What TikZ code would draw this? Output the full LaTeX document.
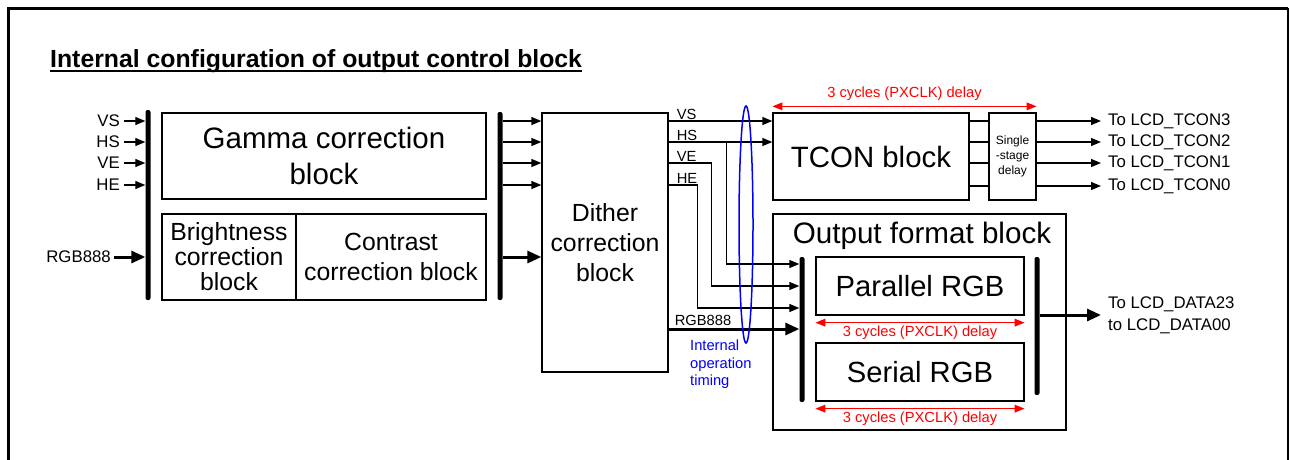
\documentclass[tikz,border=0pt]{standalone}
\usepackage{fontspec}
\setmainfont{Liberation Sans}
\usetikzlibrary{arrows.meta,positioning,shapes.geometric}
\newcommand{\fs}[2]{\fontsize{#1}{#2}\selectfont}

\begin{document}
\begin{tikzpicture}[
  x=1pt,y=-1pt,
  font=\fs{16.8}{16.8},
  blk/.style={draw,line width=1.3pt,inner sep=0pt,align=center},
  bus/.style={fill=black,minimum width=5pt,inner sep=0pt,rounded corners=2pt},
  arr/.style={-{Triangle[length=10pt,width=8pt]},line width=1.3pt},
  fat/.style={-{Triangle[length=14pt,width=12pt]},line width=3pt},
  dly/.style={{Triangle[length=10pt,width=7.5pt]}-{Triangle[length=10pt,width=7.5pt]},
    draw=red,line width=1.6pt},
  dlytxt/.style={text=red,font=\fs{14.7}{14.7},inner sep=0pt},
  sig/.style={inner sep=0pt,anchor=east},
  lbl/.style={inner sep=0pt,anchor=south west,font=\fs{14.7}{14.7}}
]
\useasboundingbox (0,0) rectangle (1290,459);
% frame
\draw[line width=3pt] (8,470) -- (8,8) -- (1288,8);
\draw[line width=2pt] (1288,8) -- (1288,470);

% title
\node[anchor=base west,inner sep=0pt,font=\fs{24.8}{24.8}\bfseries] (title) at (50,67)
  {Internal configuration of output control block};
\draw[line width=2.5pt] ([yshift=-4pt]title.base west) -- ([yshift=-4pt]title.base east);

% signal rows
\coordinate (r1) at (0,121);
\coordinate (r2) at (0,142);
\coordinate (r3) at (0,163);
\coordinate (r4) at (0,185);
\coordinate (rd) at (0,257);
\coordinate (q1) at (0,264);
\coordinate (q2) at (0,286);
\coordinate (q3) at (0,308);
\coordinate (q4) at (0,329);

% blocks
\node[blk,minimum width=324,minimum height=86,font=\fs{29.5}{36}] (gamma) at (324,156)
  {Gamma correction\\block};
\node[blk,minimum width=134,minimum height=86,font=\fs{24.8}{25}] (bright) at (229,257)
  {Brightness\\correction\\block};
\node[blk,minimum width=190,minimum height=86,font=\fs{24.8}{30}] (contrast) at (391,257)
  {Contrast\\correction block};
\node[blk,minimum width=126,minimum height=259,font=\fs{24.8}{30}] (dither) at (605,242.5)
  {Dither\\correction\\block};
\node[blk,minimum width=196,minimum height=87,font=\fs{29.4}{29.4}] (tcon) at (871,156.5)
  {TCON block};
\node[blk,minimum width=47,minimum height=87,font=\fs{12}{15}] (sdelay) at (1012.5,156.5)
  {Single\\-stage\\delay};
\node[blk,minimum width=293,minimum height=216] (ofmt) at (919.5,322) {};
\node[inner sep=0pt,font=\fs{29.6}{29.6}] (ofmttxt) at (922,236) {Output format block};
\node[blk,minimum width=208,minimum height=58,font=\fs{29.2}{29.2}] (par) at (920,286)
  {Parallel RGB};
\node[blk,minimum width=208,minimum height=58,font=\fs{29.2}{29.2}] (ser) at (920,372)
  {Serial RGB};

% buses
\node[bus,minimum height=190] (bus1) at (148,205) {};
\node[bus,minimum height=188] (bus2) at (500,206) {};
\node[bus,minimum height=145] (bus3) at (802,329.5) {};
\node[bus,minimum height=138] (bus4) at (1037,326) {};

% inputs
\node[sig] (ivs) at (120,121) {VS};
\node[sig] (ihs) at (120,142) {HS};
\node[sig] (ive) at (120,163) {VE};
\node[sig] (ihe) at (120,185) {HE};
\node[sig] (irgb) at (111,257) {RGB888};
\foreach \s in {ivs,ihs,ive,ihe}
  \draw[arr] ([xshift=4pt]\s.east) -- (\s -| bus1.west);
\draw[fat] ([xshift=3pt]irgb.east) -- (irgb -| bus1.west);

% bus to dither
\foreach \r in {r1,r2,r3,r4}
  \draw[arr] (bus2.east |- \r) -- (dither.west |- \r);
\draw[fat] (bus2.east |- rd) -- (dither.west |- rd);

% dither outputs
\draw[arr] (dither.east |- r1) -- (tcon.west |- r1);
\draw[arr] (dither.east |- r2) -- (tcon.west |- r2);
\draw[arr] (dither.east |- r2) ++(58,0) |- (bus3.west |- q1);
\draw[arr] (dither.east |- r3) -- ++(43,0) |- (bus3.west |- q2);
\draw[arr] (dither.east |- r4) -- ++(29,0) |- (bus3.west |- q3);
\draw[fat] (dither.east |- q4) -- (bus3.west |- q4);
\node[lbl] at ([xshift=8pt,yshift=1pt]dither.east |- r1) {VS};
\node[lbl] at ([xshift=8pt,yshift=1pt]dither.east |- r2) {HS};
\node[lbl] at ([xshift=8pt,yshift=1pt]dither.east |- r3) {VE};
\node[lbl] at ([xshift=8pt,yshift=1pt]dither.east |- r4) {HE};
\node[lbl] at ([xshift=6pt,yshift=3pt]dither.east |- q4) {RGB888};

% timing ring
\node[draw=blue,line width=1.5pt,ellipse,inner sep=0pt,
  minimum width=14,minimum height=237] (ring) at (746,224.5) {};
\node[anchor=north west,align=left,inner sep=0pt,text=blue,font=\fs{14.7}{17.5}]
  (timing) at (690,340) {Internal\\operation\\timing};

% TCON outputs
\node[anchor=west,inner sep=0pt] (t3) at (1108,121) {To LCD\_TCON3};
\node[anchor=west,inner sep=0pt] (t2) at (1108,142) {To LCD\_TCON2};
\node[anchor=west,inner sep=0pt] (t1) at (1108,163) {To LCD\_TCON1};
\node[anchor=west,inner sep=0pt] (t0) at (1108,186) {To LCD\_TCON0};
\foreach \t in {t3,t2,t1,t0}{
  \draw[line width=1.3pt] (tcon.east |- \t) -- (sdelay.west |- \t);
  \draw[arr] (sdelay.east |- \t) -- ([xshift=-7pt]\t.west);
}

% data output
\node[anchor=west,align=left,inner sep=0pt,font=\fs{16.8}{22}] (dout) at (1108,315)
  {To LCD\_DATA23\\to LCD\_DATA00};
\draw[fat] (bus4.east |- dout) -- ([xshift=-7pt]dout.west);

% delays
\draw[dly] ([yshift=6pt]tcon.north west) -- ([yshift=6pt]sdelay.north east)
  node[midway,above=5pt,dlytxt] {3 cycles (PXCLK) delay};
\draw[dly] ([yshift=-7pt]par.south west) -- ([yshift=-7pt]par.south east)
  node[midway,below=2pt,dlytxt] {3 cycles (PXCLK) delay};
\draw[dly] ([yshift=-7pt]ser.south west) -- ([yshift=-7pt]ser.south east)
  node[midway,below=2pt,dlytxt] {3 cycles (PXCLK) delay};
\end{tikzpicture}
\end{document}
